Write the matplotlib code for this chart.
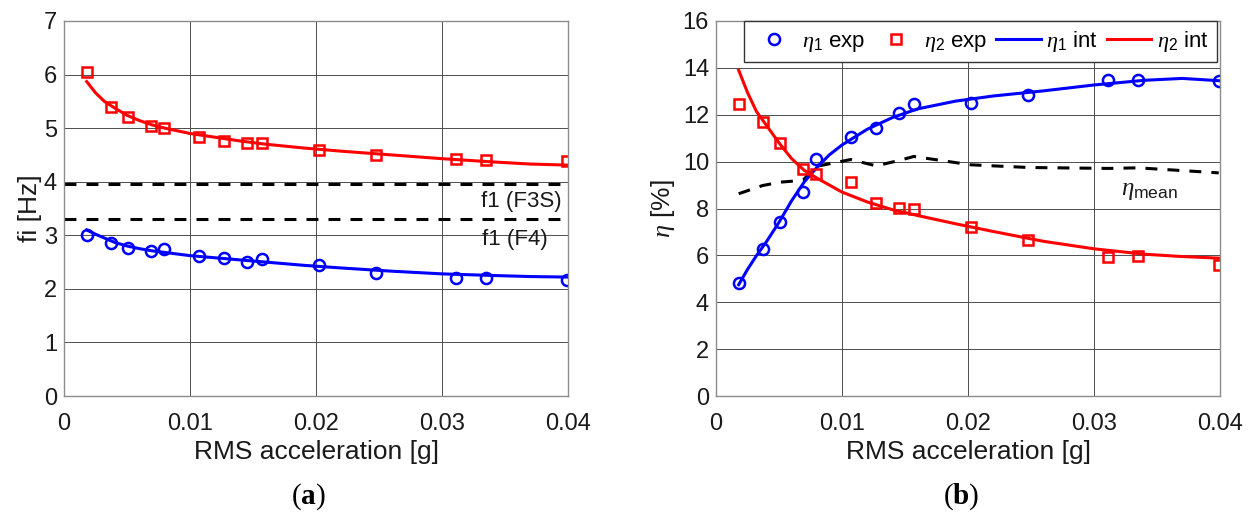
import numpy as np
import matplotlib
matplotlib.use("Agg")
from matplotlib import pyplot as plt

plt.rcParams['font.family'] = ['Liberation Sans', 'DejaVu Sans']
plt.rcParams['mathtext.fontset'] = 'custom'
plt.rcParams['mathtext.rm'] = 'Liberation Serif'
plt.rcParams['mathtext.it'] = 'Liberation Serif:italic'
plt.rcParams['mathtext.bf'] = 'Liberation Serif:bold'
plt.rcParams['mathtext.sf'] = 'Liberation Sans'

# RMS acceleration of each test [g]
acc = [0.0018, 0.0037, 0.0051, 0.0069, 0.0079, 0.0107, 0.0127,
       0.0145, 0.0157, 0.0202, 0.0248, 0.0311, 0.0335, 0.0399]

# measured frequencies [Hz]
f1_exp = [3.00, 2.85, 2.77, 2.71, 2.74, 2.61, 2.57, 2.50, 2.55, 2.45, 2.30, 2.21, 2.20, 2.17]
f2_exp = [6.05, 5.40, 5.20, 5.04, 5.01, 4.84, 4.76, 4.73, 4.72, 4.59, 4.50, 4.42, 4.41, 4.39]

# measured damping [%]
eta1_exp = [4.81, 6.26, 7.44, 8.72, 10.11, 11.06, 11.42, 12.06, 12.46, 12.51, 12.84, 13.48, 13.48, 13.45]
eta2_exp = [12.45, 11.70, 10.81, 9.68, 9.47, 9.12, 8.22, 8.03, 7.98, 7.22, 6.66, 5.94, 5.99, 5.59]

# interpolated curves
acc_int = [0.0018, 0.0025, 0.0032, 0.004, 0.005, 0.006, 0.007, 0.008, 0.009, 0.010,
           0.012, 0.014, 0.016, 0.019, 0.022, 0.026, 0.030, 0.034, 0.037, 0.040]
f1_int = [3.10, 3.02, 2.95, 2.87, 2.80, 2.75, 2.71, 2.68, 2.65, 2.62,
          2.58, 2.54, 2.50, 2.44, 2.39, 2.33, 2.28, 2.25, 2.23, 2.22]
f2_int = [5.87, 5.66, 5.50, 5.38, 5.24, 5.14, 5.06, 5.00, 4.95, 4.90,
          4.83, 4.76, 4.70, 4.63, 4.57, 4.50, 4.43, 4.37, 4.33, 4.31]
eta1_int = [4.75, 5.40, 5.98, 6.58, 7.41, 8.33, 9.13, 9.75, 10.29, 10.71,
            11.38, 11.88, 12.25, 12.58, 12.80, 13.02, 13.27, 13.47, 13.55, 13.45]
eta2_int = [13.90, 12.95, 12.15, 11.55, 10.80, 10.13, 9.63, 9.30, 9.00, 8.70,
            8.28, 7.95, 7.70, 7.35, 7.02, 6.60, 6.28, 6.05, 5.95, 5.88]

# first frequency of the reference structures
f1_F3S = 3.96
f1_F4 = 3.30

eta_mean = (np.array(eta1_exp) + np.array(eta2_exp)) / 2

xticks = [0, 0.01, 0.02, 0.03, 0.04]
xticklabels = ['0', '0.01', '0.02', '0.03', '0.04']

BLUE = '#0000ff'
RED = '#ff0000'
LW = 2.2
DASH = (3.9, 3.3)


def style_axes(ax, ymax, ystep):
    ax.set_xlim(0, 0.04)
    ax.set_ylim(0, ymax)
    ax.set_xticks(xticks)
    ax.set_xticklabels(xticklabels)
    ax.set_yticks(np.arange(0, ymax + 1, ystep))
    ax.grid(True, color='0.3', lw=0.7)
    ax.set_axisbelow(True)
    for sp in ax.spines.values():
        sp.set_color('0.55')
        sp.set_linewidth(1.0)
    ax.tick_params(axis='both', direction='in', length=0, labelsize=17, colors='0.1')
    ax.tick_params(axis='x', pad=12)
    ax.tick_params(axis='y', pad=5)
    ax.set_xlabel('RMS acceleration [g]', fontsize=19, color='0.1', labelpad=4)


fig = plt.figure(figsize=(12.5, 5.21), dpi=100)
ax1 = fig.add_axes([0.0512, 0.2399, 0.4032, 0.7198])
ax2 = fig.add_axes([0.5728, 0.2399, 0.4032, 0.7198])

# (a) natural frequencies
style_axes(ax1, 7, 1)
ax1.plot([0, 0.0399], [f1_F3S, f1_F3S], color='k', lw=LW, dashes=DASH)
ax1.plot([0, 0.0399], [f1_F4, f1_F4], color='k', lw=LW, dashes=DASH)
ax1.plot(acc_int, f2_int, color=RED, lw=LW)
ax1.plot(acc_int, f1_int, color=BLUE, lw=LW)
ax1.plot(acc, f2_exp, ls='none', marker='s', ms=6.5, mfc='none', mec=RED, mew=1.8)
ax1.plot(acc, f1_exp, ls='none', marker='o', ms=8, mfc='none', mec=BLUE, mew=1.8)
ax1.text(0.0363, 3.63, 'f1 (F3S)', fontsize=16, color='0.1', ha='center', va='center')
ax1.text(0.0358, 2.92, 'f1 (F4)', fontsize=16, color='0.1', ha='center', va='center')
ax1.set_ylabel('fi [Hz]', fontsize=19, color='0.1', labelpad=1)

# (b) damping ratios
style_axes(ax2, 16, 2)
ax2.plot(acc, eta_mean, color='k', lw=LW, dashes=DASH)
l1, = ax2.plot(acc_int, eta1_int, color=BLUE, lw=LW)
l2, = ax2.plot(acc_int, eta2_int, color=RED, lw=LW)
m1, = ax2.plot(acc, eta1_exp, ls='none', marker='o', ms=8, mfc='none', mec=BLUE, mew=1.8)
m2, = ax2.plot(acc, eta2_exp, ls='none', marker='s', ms=6.5, mfc='none', mec=RED, mew=1.8)
ax2.text(0.0344, 8.8, r'$\eta_{\mathsf{mean}}$', fontsize=18, color='0.1', ha='center', va='center')
ax2.set_ylabel(r'$\eta$ [%]', fontsize=19, color='0.1', labelpad=4)

leg = ax2.legend([m1, m2, l1, l2],
                 [r'$\eta_{\mathsf{1}}$ exp', r'$\eta_{\mathsf{2}}$ exp',
                  r'$\eta_{\mathsf{1}}$ int', r'$\eta_{\mathsf{2}}$ int'],
                 ncol=4, loc='upper left', bbox_to_anchor=(0.056, 1.0),
                 fontsize=16, handlelength=2.0, handletextpad=0.25, columnspacing=0.4,
                 borderpad=0.35, borderaxespad=0, fancybox=False, framealpha=1)
leg.get_frame().set_edgecolor('0.2')
leg.get_frame().set_linewidth(1.0)

fig.text(0.2465, 0.046, r'$(\mathbf{a})$', fontsize=21, ha='center', va='center')
fig.text(0.769, 0.046, r'$(\mathbf{b})$', fontsize=21, ha='center', va='center')

fig.savefig('out.png', dpi=100, facecolor='white')
